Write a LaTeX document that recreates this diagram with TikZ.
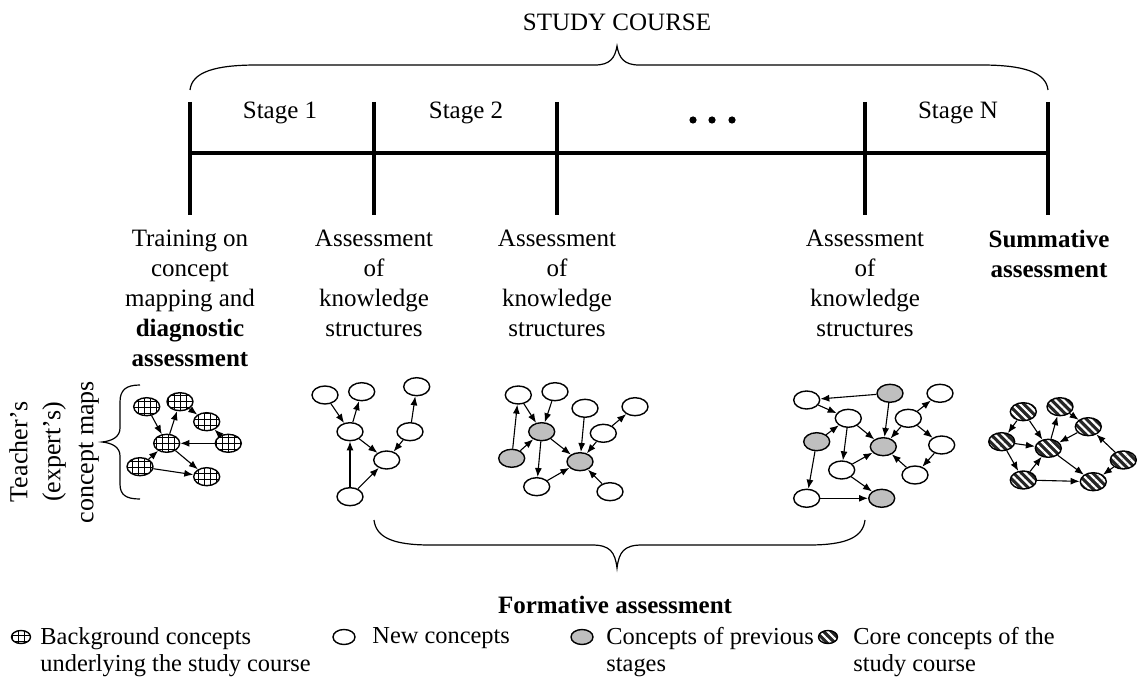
\documentclass[tikz,border=0pt]{standalone}
\usepackage{fontspec}
\setmainfont{Liberation Serif}
\usetikzlibrary{arrows.meta,patterns.meta,shapes.geometric}
\begin{document}
\begin{tikzpicture}[x=0.5pt,y=-0.5pt,
  txt/.style={font=\fontsize{12.5}{15}\selectfont, inner sep=0pt, align=center},
  legtxt/.style={font=\fontsize{12.2}{13.5}\selectfont, inner sep=0pt, align=left, anchor=north west},
  bar/.style={line width=1.6pt},
  cn/.style={ellipse, draw, line width=0.7pt, minimum width=13pt, minimum height=9pt, inner sep=0pt},
  newc/.style={cn, fill=white},
  prevc/.style={cn, fill=black!25},
  bgc/.style={cn, pattern={Hatch[distance=3pt,line width=0.45pt]}},
  corec/.style={cn, preaction={fill=black!85}, pattern={Lines[angle=-45,distance=2.8pt,line width=1.1pt]}, pattern color=white},
  ar/.style={-{Latex[length=4.5pt,width=3.5pt]}, line width=0.55pt},
  brc/.style={line width=0.6pt}
]
\useasboundingbox (0,0) rectangle (1139,683);

% title and top brace
\node[txt] (title) at (617,22) {STUDY COURSE};
\draw[brc] (190,90) .. controls (192,72) and (215,65) .. (257,65) -- (595,65)
  .. controls (610,65) and (615,58) .. (617,46)
  .. controls (619,58) and (624,65) .. (639,65) -- (981,65)
  .. controls (1023,65) and (1046,72) .. (1048,90);

% timeline
\coordinate (t0) at (190,153);
\coordinate (t4) at (1048,153);
\draw[bar] (t0) -- (t4);
\foreach \x/\n in {190/a,374/b,557/c,865/d,1048/e}{
  \coordinate (top\n) at (\x,102);
  \coordinate (bot\n) at (\x,215);
  \draw[bar] (top\n) -- (bot\n);
}
\node[txt] (s1) at (280,113) {Stage 1};
\node[txt] (s2) at (466,113) {Stage 2};
\node[txt] (sN) at (958,113) {Stage N};
\foreach \x in {693,712,732}{ \fill (\x,120) circle (3.6); }

% column texts
\node[txt, anchor=north] (c1) at (190,230) {Training on\\concept\\mapping and\\\textbf{diagnostic}\\\textbf{assessment}};
\node[txt, anchor=north] (c2) at (374,230) {Assessment\\of\\knowledge\\structures};
\node[txt, anchor=north] (c3) at (557,230) {Assessment\\of\\knowledge\\structures};
\node[txt, anchor=north] (c4) at (865,230) {Assessment\\of\\knowledge\\structures};
\node[txt, anchor=north] (c5) at (1049,230) {\textbf{Summative}\\\textbf{assessment}};

% left rotated label and brace
\node[txt, rotate=90, font=\fontsize{13}{16.5}\selectfont] (teach) at (54,452) {Teacher’s\\(expert’s)\\concept maps};
\draw[brc] (140,385) .. controls (126,385) and (120,390) .. (120,402) -- (120,428)
  .. controls (120,437) and (112,441) .. (102,442)
  .. controls (112,443) and (120,447) .. (120,456) -- (120,484)
  .. controls (120,495) and (126,499) .. (140,499);

% map 1: background concepts
\node[bgc] (m1a) at (146.7,406.7) {};
\node[bgc] (m1b) at (180,401.7) {};
\node[bgc] (m1c) at (206.7,421.7) {};
\node[bgc] (m1d) at (166.7,443.3) {};
\node[bgc] (m1e) at (228.3,443.3) {};
\node[bgc] (m1f) at (140,466.7) {};
\node[bgc] (m1g) at (206.7,476.7) {};
\draw[ar] (m1a) -- (m1d);
\draw[ar] (m1d) -- (m1b);
\draw[ar] (m1b) -- (m1c);
\draw[ar] (m1e) -- (m1c);
\draw[ar] (m1e) -- (m1d);
\draw[ar] (m1f) -- (m1d);
\draw[ar] (m1d) -- (m1g);
\draw[ar] (m1f) -- (m1g);

% map 2
\node[newc] (m2a) at (325,395) {};
\node[newc] (m2b) at (361.7,391.7) {};
\node[newc] (m2c) at (416.7,386.7) {};
\node[newc] (m2d) at (350,431.7) {};
\node[newc] (m2e) at (410,431.7) {};
\node[newc] (m2f) at (386.7,460) {};
\node[newc] (m2g) at (350,496.7) {};
\draw[ar] (m2a) -- (m2d);
\draw[ar] (m2d) -- (m2b);
\draw[ar] (m2e) -- (m2c);
\draw[ar] (m2d) -- (m2f);
\draw[ar] (m2e) -- (m2f);
\draw[ar] (m2g) -- (m2d);
\draw[ar] (m2g) -- (m2f);

% map 3
\node[newc] (m3a) at (518.3,395) {};
\node[newc] (m3b) at (555,391.7) {};
\node[newc] (m3c) at (585,408.3) {};
\node[newc] (m3d) at (635,406.7) {};
\node[prevc] (m3e) at (541.7,431.7) {};
\node[newc] (m3f) at (603.3,433.3) {};
\node[prevc] (m3g) at (511.7,458.3) {};
\node[prevc] (m3h) at (580,461.7) {};
\node[newc] (m3i) at (536.7,486.7) {};
\node[newc] (m3j) at (610,491.7) {};
\draw[ar] (m3a) -- (m3e);
\draw[ar] (m3b) -- (m3e);
\draw[ar] (m3g) -- (m3a);
\draw[ar] (m3g) -- (m3e);
\draw[ar] (m3e) -- (m3i);
\draw[ar] (m3e) -- (m3h);
\draw[ar] (m3c) -- (m3h);
\draw[ar] (m3f) -- (m3h);
\draw[ar] (m3f) -- (m3d);
\draw[ar] (m3i) -- (m3h);
\draw[ar] (m3j) -- (m3h);

% map 4
\node[newc] (m4a) at (806.7,400) {};
\node[prevc] (m4b) at (890,393.3) {};
\node[newc] (m4c) at (940,393.3) {};
\node[newc] (m4d) at (848.3,418.3) {};
\node[newc] (m4e) at (908.3,418.3) {};
\node[prevc] (m4f) at (816.7,441.7) {};
\node[prevc] (m4g) at (883.3,446.7) {};
\node[newc] (m4h) at (941.7,445) {};
\node[newc] (m4i) at (841.7,470) {};
\node[newc] (m4j) at (915,475) {};
\node[newc] (m4k) at (806.7,498.3) {};
\node[prevc] (m4l) at (881.7,498.3) {};
\draw[ar] (m4b) -- (m4a);
\draw[ar] (m4a) -- (m4d);
\draw[ar] (m4f) -- (m4d);
\draw[ar] (m4d) -- (m4i);
\draw[ar] (m4d) -- (m4g);
\draw[ar] (m4b) -- (m4g);
\draw[ar] (m4e) -- (m4g);
\draw[ar] (m4e) -- (m4c);
\draw[ar] (m4e) -- (m4h);
\draw[ar] (m4h) -- (m4j);
\draw[ar] (m4j) -- (m4g);
\draw[ar] (m4i) -- (m4g);
\draw[ar] (m4f) -- (m4k);
\draw[ar] (m4k) -- (m4l);
\draw[ar] (m4i) -- (m4l);

% map 5: core concepts
\node[corec] (m5a) at (1023.3,411.7) {};
\node[corec] (m5b) at (1060,406.7) {};
\node[corec] (m5c) at (1088.3,426.7) {};
\node[corec] (m5d) at (1001.7,441.7) {};
\node[corec] (m5e) at (1048.3,448.3) {};
\node[corec] (m5f) at (1123.3,460) {};
\node[corec] (m5g) at (1023.3,480) {};
\node[corec] (m5h) at (1093.3,481.7) {};
\draw[ar] (m5a) -- (m5d);
\draw[ar] (m5a) -- (m5e);
\draw[ar] (m5e) -- (m5b);
\draw[ar] (m5b) -- (m5c);
\draw[ar] (m5c) -- (m5e);
\draw[ar] (m5f) -- (m5c);
\draw[ar] (m5d) -- (m5e);
\draw[ar] (m5d) -- (m5g);
\draw[ar] (m5g) -- (m5e);
\draw[ar] (m5g) -- (m5h);
\draw[ar] (m5e) -- (m5h);
\draw[ar] (m5f) -- (m5h);

% bottom brace
\draw[brc] (374,520) .. controls (376,537) and (392,545) .. (430,545) -- (592,545)
  .. controls (610,545) and (615,552) .. (617,568)
  .. controls (619,552) and (624,545) .. (642,545) -- (809,545)
  .. controls (847,545) and (863,537) .. (865,520);
\node[txt] (form) at (615,605) {\textbf{Formative assessment}};

% legend
\node[bgc, minimum width=9.5pt, minimum height=6.5pt] (l1) at (21,637) {};
\node[legtxt] (l1t) at (40,627) {Background concepts\\underlying the study course};
\node[newc, minimum width=11pt, minimum height=7.5pt] (l2) at (344,637) {};
\node[legtxt] (l2t) at (372,627) {New concepts};
\node[prevc, minimum width=11pt, minimum height=7.5pt] (l3) at (582,637) {};
\node[legtxt] (l3t) at (606,627) {Concepts of previous\\stages};
\node[corec, minimum width=9.5pt, minimum height=6.5pt] (l4) at (828,637) {};
\node[legtxt] (l4t) at (853,627) {Core concepts of the\\study course};
\end{tikzpicture}
\end{document}
